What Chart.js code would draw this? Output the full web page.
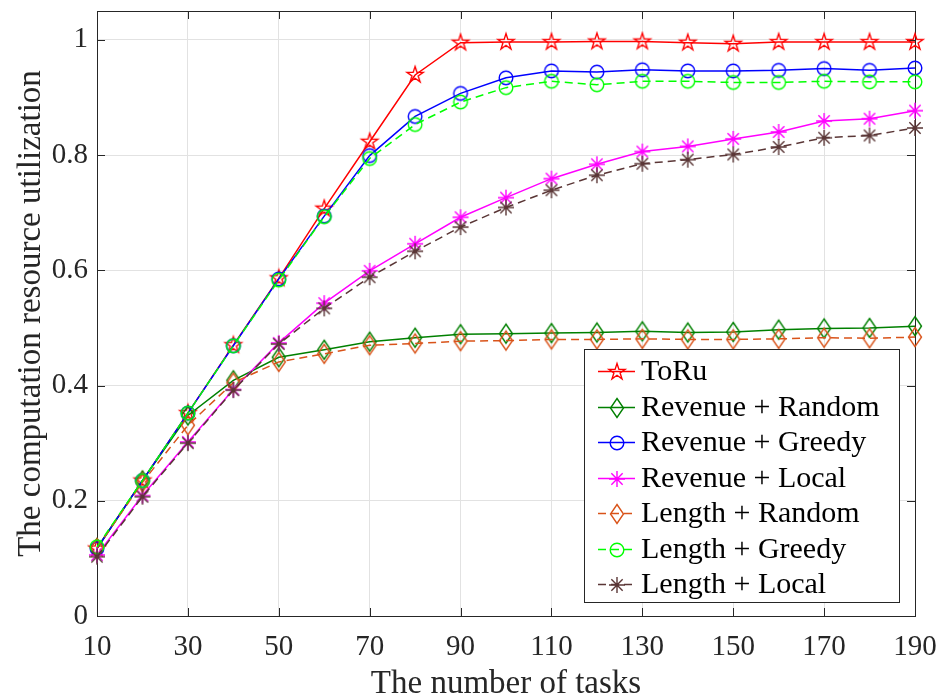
<!DOCTYPE html>
<html><head><meta charset="utf-8">
<script src="https://cdn.jsdelivr.net/npm/chart.js@4/dist/chart.umd.min.js"></script>
<style>html,body{margin:0;padding:0;background:#fff}canvas{display:block}</style>
</head><body>
<canvas id="c" width="946" height="699"></canvas>
<script>
// ---- data ----
const tasks = [10,20,30,40,50,60,70,80,90,100,110,120,130,140,150,160,170,180,190];
const xTicks = [10,30,50,70,90,110,130,150,170,190];
const yTicks = [0,0.2,0.4,0.6,0.8,1];
const yTickLabels = ['0','0.2','0.4','0.6','0.8','1'];
const seriesNames = ['ToRu','Revenue + Random','Revenue + Greedy','Revenue + Local','Length + Random','Length + Greedy','Length + Local'];
const toru          = [0.117,0.235,0.352,0.470,0.586,0.707,0.823,0.939,0.995,0.996,0.996,0.997,0.997,0.995,0.993,0.996,0.996,0.996,0.996];
const revenueRandom = [0.118,0.235,0.348,0.409,0.449,0.462,0.476,0.483,0.489,0.490,0.491,0.492,0.494,0.492,0.493,0.497,0.499,0.500,0.503];
const revenueGreedy = [0.117,0.235,0.352,0.469,0.585,0.694,0.799,0.867,0.907,0.934,0.946,0.944,0.948,0.946,0.946,0.947,0.950,0.947,0.951];
const revenueLocal  = [0.106,0.209,0.302,0.393,0.474,0.543,0.599,0.646,0.692,0.726,0.759,0.784,0.806,0.815,0.828,0.840,0.859,0.863,0.877];
const lengthRandom  = [0.118,0.232,0.331,0.405,0.441,0.455,0.470,0.473,0.477,0.478,0.480,0.480,0.481,0.480,0.480,0.481,0.483,0.482,0.484];
const lengthGreedy  = [0.120,0.235,0.352,0.469,0.583,0.693,0.794,0.853,0.892,0.917,0.928,0.922,0.928,0.928,0.926,0.926,0.928,0.927,0.927];
const lengthLocal   = [0.103,0.207,0.300,0.392,0.472,0.534,0.588,0.633,0.675,0.709,0.739,0.765,0.785,0.792,0.801,0.814,0.830,0.834,0.847];

// ---- styles ----
const FONT = '"Liberation Serif","Times New Roman",serif';
const AXIS = '#262626';
const seriesData = [toru, revenueRandom, revenueGreedy, revenueLocal, lengthRandom, lengthGreedy, lengthLocal];
const colors = ['#ff0000','#008000','#0000ff','#ff00ff','#d95319','#00ff00','#5a3636'];
const dashed = [false,false,false,false,true,true,true];
const markers = ['pentagram','diamond','circle','asterisk','diamond','circle','asterisk'];

function mk(size){const c=document.createElement('canvas');c.width=size;c.height=size;return c;}
function makeMarker(kind,color){
  let c, g;
  if(kind==='pentagram'){
    c=mk(22);g=c.getContext('2d');const cx=11,cy=11,R=8.5,r=R*0.382;
    g.beginPath();
    for(let k=0;k<10;k++){const a=-Math.PI/2+k*Math.PI/5;const rr=k%2?r:R;const x=cx+rr*Math.cos(a),y=cy+rr*Math.sin(a);k?g.lineTo(x,y):g.moveTo(x,y);}
    g.closePath();
  } else if(kind==='diamond'){
    c=mk(24);g=c.getContext('2d');const cx=12,cy=12,hw=6.5,hh=9.5;
    g.beginPath();g.moveTo(cx,cy-hh);g.lineTo(cx+hw,cy);g.lineTo(cx,cy+hh);g.lineTo(cx-hw,cy);g.closePath();
  } else if(kind==='circle'){
    c=mk(20);g=c.getContext('2d');
    g.beginPath();g.arc(10,10,6.8,0,Math.PI*2);
  } else {
    c=mk(22);g=c.getContext('2d');const cx=11,cy=11,R=8,d=R*Math.SQRT1_2;
    g.beginPath();
    g.moveTo(cx,cy-R);g.lineTo(cx,cy+R);
    g.moveTo(cx-R,cy);g.lineTo(cx+R,cy);
    g.moveTo(cx-d,cy-d);g.lineTo(cx+d,cy+d);
    g.moveTo(cx-d,cy+d);g.lineTo(cx+d,cy-d);
  }
  g.strokeStyle=color;g.lineWidth=1.4;g.lineJoin='miter';g.stroke();
  return c;
}

const N = seriesNames.length;
const datasets = seriesNames.map((name,i)=>({
  label:name,
  data:tasks.map((t,j)=>({x:t,y:seriesData[i][j]})),
  borderColor:colors[i],
  backgroundColor:'transparent',
  borderWidth:1.5,
  borderDash:dashed[i]?[8,5]:[],
  pointStyle:makeMarker(markers[i],colors[i]),
  pointRadius:8,
  pointHoverRadius:8,
  tension:0,
  fill:false,
  clip:false,
  order:N-i
}));

const boxPlugin = {
  id:'box',
  beforeDatasetsDraw(chart){
    const {ctx,chartArea:a,scales:{x,y}} = chart;
    ctx.save();
    ctx.strokeStyle=AXIS;ctx.lineWidth=1;
    ctx.beginPath();
    xTicks.forEach(v=>{const px=Math.round(x.getPixelForValue(v))+0.5;
      ctx.moveTo(px,a.bottom);ctx.lineTo(px,a.bottom-8);
      ctx.moveTo(px,a.top);ctx.lineTo(px,a.top+8);});
    yTicks.forEach(v=>{const py=Math.round(y.getPixelForValue(v))+0.5;
      ctx.moveTo(a.left,py);ctx.lineTo(a.left+8,py);
      ctx.moveTo(a.right,py);ctx.lineTo(a.right-8,py);});
    ctx.stroke();
    ctx.strokeRect(Math.round(a.left)+0.5,Math.round(a.top)+0.5,Math.round(a.right-a.left),Math.round(a.bottom-a.top));
    ctx.restore();
  }
};

const legendPlugin = {
  id:'matlabLegend',
  afterDraw(chart){
    const {ctx,chartArea:a} = chart;
    const right=a.right-16, bottom=a.bottom-14, left=right-315, top=bottom-253;
    ctx.save();
    ctx.fillStyle='#fff';ctx.fillRect(left,top,right-left,bottom-top);
    ctx.strokeStyle=AXIS;ctx.lineWidth=1;
    ctx.strokeRect(Math.round(left)+0.5,Math.round(top)+0.5,Math.round(right-left),Math.round(bottom-top));
    const step=35.55, y0=top+22;
    chart.data.datasets.forEach((ds,i)=>{
      const yy=Math.round(y0+i*step)+0.5;
      const lx0=left+14, lx1=left+51, mx=(lx0+lx1)/2;
      ctx.strokeStyle=ds.borderColor;ctx.lineWidth=1.5;
      ctx.setLineDash(ds.borderDash);
      ctx.beginPath();ctx.moveTo(lx0,yy);ctx.lineTo(lx1,yy);ctx.stroke();
      ctx.setLineDash([]);
      const img=ds.pointStyle;
      ctx.drawImage(img,Math.round(mx-img.width/2),Math.round(yy-img.height/2));
      ctx.fillStyle='#000';ctx.font='30px '+FONT;ctx.textBaseline='middle';ctx.textAlign='left';
      ctx.fillText(ds.label,left+57,yy+1);
    });
    ctx.restore();
  }
};

function zeroPad(s){s.paddingTop=0;s.paddingBottom=0;s.paddingLeft=0;s.paddingRight=0;}

new Chart(document.getElementById('c'),{
  type:'line',
  data:{datasets},
  options:{
    responsive:false,animation:false,devicePixelRatio:1,
    layout:{padding:{top:11,right:31,left:0,bottom:0}},
    plugins:{legend:{display:false},tooltip:{enabled:false}},
    scales:{
      x:{type:'linear',min:10,max:190,
        afterBuildTicks:s=>{s.ticks=xTicks.map(v=>({value:v}));},
        afterFit:s=>{s.height=83;zeroPad(s);},
        grid:{color:'#e2e2e2',drawTicks:false,lineWidth:1},
        border:{display:false},
        ticks:{padding:14,color:AXIS,font:{family:FONT,size:29},maxRotation:0,minRotation:0,autoSkip:false,callback:v=>String(v)},
        title:{display:true,text:'The number of tasks',color:AXIS,font:{family:FONT,size:33,lineHeight:0.9},padding:{top:0,bottom:0}}
      },
      y:{type:'linear',min:0,max:1.05,
        afterBuildTicks:s=>{s.ticks=yTicks.map(v=>({value:v}));},
        afterFit:s=>{s.width=97;zeroPad(s);},
        grid:{color:'#e2e2e2',drawTicks:false,lineWidth:1},
        border:{display:false},
        ticks:{padding:9,color:AXIS,font:{family:FONT,size:29},autoSkip:false,callback:v=>{const k=yTicks.findIndex(t=>Math.abs(t-v)<1e-9);return k>=0?yTickLabels[k]:'';}},
        title:{display:true,text:'The computation resource utilization',color:AXIS,font:{family:FONT,size:33,lineHeight:0.9},padding:{top:16,bottom:0}}
      }
    }
  },
  plugins:[boxPlugin,legendPlugin]
});
</script>
</body></html>
